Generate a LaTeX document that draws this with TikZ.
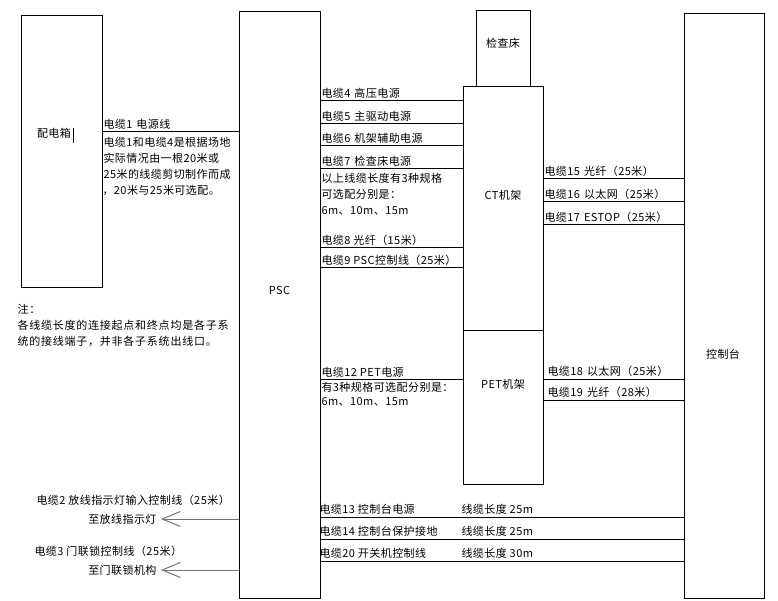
\documentclass[tikz,border=0pt]{standalone}
\usepackage{fontspec}
\setmainfont{Noto Sans CJK SC}[LetterSpace=4]
\newfontfamily\widefont{Noto Sans CJK SC}[LetterSpace=7]
\usetikzlibrary{arrows.meta,positioning}
\newcommand{\fs}{\fontsize{11}{13}\selectfont}
\newcommand{\gap}{\hspace{4pt}}

\begin{document}
\begin{tikzpicture}[x=1pt, y=-1pt, line width=1pt,
  unit/.style={draw, rectangle, inner sep=0pt, outer sep=0pt},
  txt/.style={inner sep=0pt, font=\fs},
  cab/.style={txt, anchor=base west},
  arr/.style={draw=black!55, -{Straight Barb[length=18pt,width=15pt]}}]
  \useasboundingbox (0,0) rectangle (778,600);
  % units
  \node[unit, minimum width=81, minimum height=272] (pdx) at (61.5,151) {};
  \node[unit, minimum width=81, minimum height=587] (psc) at (279.5,304.5) {};
  \node[unit, minimum width=80, minimum height=244] (ct) at (503,208) {};
  \node[unit, minimum width=80, minimum height=154] (pet) [below=0pt of ct] {};
  \node[unit, minimum width=54, minimum height=76] (bed) [above=0pt of ct] {};
  \node[unit, minimum width=80, minimum height=585] (ctrl) at (724,305.5) {};
  \node[txt] (pdx-t) at (54,133) {配电箱};
  \draw (73,128) -- (73,143);
  \node[txt] (psc-t) at (279.5,290) {PSC};
  \node[txt] (bed-t) at (503,43) {检查床};
  \node[txt] (ct-t) at (503,195) {CT机架};
  \node[txt] (pet-t) at (503,384) {PET机架};
  \node[txt] (ctrl-t) at (723,354) {控制台};
  % cables
  \draw (pdx.east |- 0,131) -- (psc.west |- 0,131);
  \node[cab] at (103,128) {电缆1\gap 电源线};
  \foreach \y/\t in {100/{电缆4\gap 高压电源}, 123/{电缆5\gap 主驱动电源},
      145/{电缆6\gap 机架辅助电源}, 168/{电缆7\gap 检查床电源},
      247/{电缆8 光纤（15米）}, 267/{电缆9 PSC控制线（25米）}} {
    \draw (psc.east |- 0,\y) -- (ct.west |- 0,\y);
    \node[cab] at (321,\y-3) {\t};
  }
  \foreach \y/\t in {178/{电缆15\gap 光纤（25米）}, 201/{电缆16\gap 以太网（25米）},
      224/{电缆17\gap ESTOP（25米）}} {
    \draw (ct.east |- 0,\y) -- (ctrl.west |- 0,\y);
    \node[cab] at (544,\y-3) {\t};
  }
  \foreach \y/\t in {379/{电缆18\gap 以太网（25米）}, 400/{电缆19\gap 光纤（28米）}} {
    \draw (pet.east |- 0,\y) -- (ctrl.west |- 0,\y);
    \node[cab] at (547,\y-4) {\t};
  }
  \draw (psc.east |- 0,379) -- (pet.west |- 0,379);
  \node[cab] at (321,376) {电缆12 PET电源};
  \foreach \y/\t/\l in {517/{电缆13 控制台电源}/25m, 539/{电缆14 控制台保护接地}/25m,
      561/{电缆20 开关机控制线}/30m} {
    \draw (psc.east |- 0,\y) -- (ctrl.west |- 0,\y);
    \node[cab] at (319,\y-4) {\t};
    \node[cab] at (461,\y-4) {线缆长度 \l};
  }
  % notes
  \node[cab] at (103,146) {电缆1和电缆4是根据场地};
  \node[cab] at (103,162) {实际情况由一根20米或};
  \node[cab] at (103,178) {25米的线缆剪切制作而成};
  \node[cab] at (102,194) {，20米与25米可选配。};
  \node[cab] at (321,182) {以上线缆长度有3种规格};
  \node[cab] at (321,198) {可选配分别是：};
  \node[cab] at (321,214) {6m、10m、15m};
  \node[cab] at (321,391) {有3种规格可选配分别是：};
  \node[cab] at (321,405) {6m、10m、15m};
  \node[cab, font=\fs\widefont] at (17,313) {注：};
  \node[cab, font=\fs\widefont] at (17,329) {各线缆长度的连接起点和终点均是各子系};
  \node[cab, font=\fs\widefont] at (17,345) {统的接线端子，并非各子系统出线口。};
  % outgoing cables
  \coordinate (lamp) at (161,519);
  \coordinate (door) at (161,570);
  \draw[arr] (psc.west |- lamp) -- (lamp);
  \draw[arr] (psc.west |- door) -- (door);
  \node[cab] at (36,504) {电缆2 放线指示灯输入控制线（25米）};
  \node[txt, anchor=base east] at (157,523) {至放线指示灯};
  \node[cab] at (34,555) {电缆3 门联锁控制线（25米）};
  \node[txt, anchor=base east] at (157,574) {至门联锁机构};
\end{tikzpicture}
\end{document}
